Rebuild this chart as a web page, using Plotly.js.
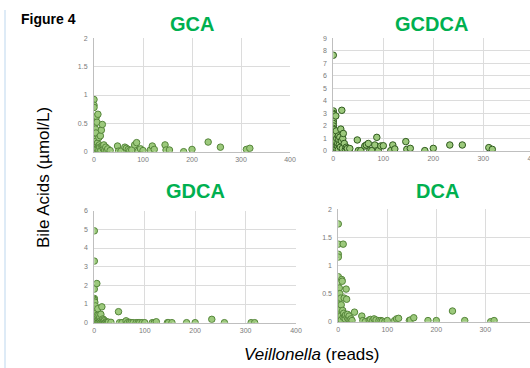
<!DOCTYPE html>
<html>
<head>
<meta charset="utf-8">
<script src="https://cdn.plot.ly/plotly-3.0.1.min.js"></script>
<style>
html,body{margin:0;padding:0;overflow:hidden;background:#fff;}
#chart{width:540px;height:368px;}
</style>
</head>
<body>
<div id="chart"></div>
<script>
// Veillonella reads (shared across panels)
const reads = [
  0,0,0,0,0,0,0,0,0,0,0,0,0,0,0,
  1,1,1,1, 2,2,2, 3,3,3, 4,4, 5,5, 6,6, 7, 8, 9, 10,10, 11, 12, 13, 14, 15, 16, 17, 18, 19, 20, 22, 24, 26, 28,
  33,48,50,55,63,66,70,73,77,83,87,90,95,100,115,119,123,145,147,154,183,200,233,258,311,318
];
const gca = [
  0.92,0.82,0.78,0.57,0.45,0.35,0.3,0.25,0.2,0.15,0.12,0.08,0.05,0.02,0.0,
  0.3,0.18,0.1,0.03, 0.22,0.12,0.06, 0.4,0.18,0.02, 0.33,0.08, 0.62,0.12, 0.52,0.05, 0.15, 0.66, 0.1, 0.25,0.03, 0.12, 0.08, 0.28, 0.02, 0.38, 0.1, 0.48, 0.1, 0.05, 0.12, 0.03, 0.08, 0.02, 0.05,
  0.02,0.10,0.01,0.01,0.08,0.06,0.04,0.02,0.03,0.12,0.16,0.01,0.05,0.02,0.03,0.10,0.04,0.12,0.03,0.03,0.0,0.04,0.17,0.08,0.04,0.06
];
const gcdca = [
  7.65,3.2,3.0,2.4,2.2,2.0,1.8,1.6,1.4,1.2,1.0,0.8,0.5,0.3,0.1,
  2.9,1.7,0.9,0.4, 1.5,0.6,0.2, 1.1,0.7,0.05, 1.3,0.3, 2.8,0.8, 1.6,0.2, 1.0, 0.4, 0.6, 1.2,0.1, 0.9, 0.5, 1.1, 0.3, 1.75, 0.8, 3.25, 0.2, 1.0, 1.4, 0.6, 0.1, 0.3, 0.2,
  0.2,0.88,0.03,0.03,0.4,0.48,0.6,0.03,0.03,0.48,1.09,0.03,0.4,0.42,0.03,0.48,0.16,0.75,0.13,0.21,0.03,0.21,0.48,0.48,0.27,0.13
];
const gdca = [
  4.92,3.3,1.8,1.3,1.25,1.2,1.1,1.0,0.7,0.5,0.3,0.2,0.1,0.05,0.0,
  1.1,0.6,0.2,0.05, 0.9,0.4,0.1, 0.5,0.2,0.02, 0.3,0.1, 2.1,0.05, 0.4,0.1, 0.75, 0.05, 0.4, 0.2,0.05, 0.3, 0.1, 0.45, 0.05, 0.85, 0.1, 0.2, 0.05, 0.15, 0.1, 0.02, 0.05, 0.02, 0.03,
  0.02,0.59,0.0,0.0,0.1,0.0,0.02,0.0,0.0,0.0,0.0,0.0,0.0,0.0,0.0,0.0,0.05,0.0,0.0,0.0,0.0,0.0,0.18,0.0,0.0,0.0
];
const dca = [
  1.74,1.38,1.2,1.15,0.8,0.7,0.58,0.55,0.5,0.35,0.28,0.2,0.1,0.05,0.02,
  0.48,0.3,0.12,0.03, 0.6,0.25,0.08, 0.5,0.15,0.02, 0.22,0.05, 0.42,0.1, 0.3,0.03, 0.75, 0.72, 0.2, 1.38,0.08, 0.15, 0.42, 0.1, 0.05, 0.12, 0.58, 0.4, 0.08, 0.13, 0.05, 0.1, 0.03, 0.05, 0.02,
  0.17,0.1,0.02,0.0,0.03,0.04,0.02,0.05,0.03,0.02,0.02,0.01,0.0,0.02,0.02,0.05,0.06,0.02,0.03,0.07,0.02,0.02,0.19,0.02,0.0,0.02
];
const panelNames = ["GCA","GCDCA","GDCA","DCA"];
const xTicks = [0,100,200,300,400];

const fill = "#9cc97c";
function tr(y, xa, ya, edge){
  return {x: reads, y: y, xaxis: xa, yaxis: ya, type: "scatter", mode: "markers",
    marker: {size: 6.5, color: fill, line: {color: edge, width: 1}}, hoverinfo: "x+y"};
}
const data = [
  tr(gca, "x", "y", "#55853a"),
  tr(gcdca, "x2", "y2", "#2f5a1e"),
  tr(gdca, "x3", "y3", "#55853a"),
  tr(dca, "x4", "y4", "#55853a")
];
const tickFont = {family: "Liberation Sans, Arial, sans-serif", size: 7, color: "#7a7a7a"};
function xa(dom, maxr, anchor){
  return {domain: dom, range: [0, maxr], anchor: anchor, tickvals: xTicks, ticktext: xTicks.map(String),
    showgrid: true, gridcolor: "#dcdcdc", gridwidth: 1, zeroline: false, showline: true, linecolor: "#bfbfbf",
    linewidth: 1, ticks: "", tickfont: tickFont, fixedrange: true, ticklabelstandoff: 1};
}
function ya(dom, maxr, dt, anchor){
  return {domain: dom, range: [0, maxr], anchor: anchor, dtick: dt, tick0: 0,
    showgrid: true, gridcolor: "#dcdcdc", gridwidth: 1, zeroline: false, showline: true, linecolor: "#bfbfbf",
    linewidth: 1, ticks: "", tickfont: tickFont, fixedrange: true, ticklabelstandoff: 4};
}
const titleFont = {family: "Liberation Sans, Arial, sans-serif", size: 20, color: "#00b050", weight: "bold"};
const W = 540, H = 368;
function ann(text, px, py, font, extra){
  return Object.assign({text: text, x: px / W, y: 1 - py / H, xref: "paper", yref: "paper",
    showarrow: false, xanchor: "center", yanchor: "middle", font: font}, extra || {});
}
const layout = {
  width: W, height: H, margin: {l: 0, r: 0, t: 0, b: 0},
  paper_bgcolor: "#fff", plot_bgcolor: "#fff", showlegend: false,
  xaxis: xa([94/W, 290/W], 400, "y"),
  yaxis: ya([1-151.7/H, 1-38.3/H], 2, 0.5, "x"),
  xaxis2: xa([333.3/W, 533.3/W], 400, "y2"),
  yaxis2: ya([1-151/H, 1-38.3/H], 9, 1, "x2"),
  xaxis3: xa([94.3/W, 296/W], 400, "y3"),
  yaxis3: ya([1-322.7/H, 1-210.7/H], 6, 1, "x3"),
  xaxis4: xa([338.3/W, 534.3/W], 400, "y4"),
  yaxis4: ya([1-321.7/H, 1-209.3/H], 2, 0.5, "x4"),
  annotations: [
    ann(panelNames[0], 191.5, 24.5, titleFont),
    ann(panelNames[1], 431.7, 24.5, titleFont),
    ann(panelNames[2], 195, 190.5, titleFont),
    ann(panelNames[3], 437.5, 190.5, titleFont),
    ann("<b>Figure 4</b>", 48.5, 18.5, {family: "Liberation Sans, Arial, sans-serif", size: 14, color: "#000"}),
    ann("Bile Acids (µmol/L)", 43, 178, {family: "Liberation Sans, Arial, sans-serif", size: 17, color: "#000"}, {textangle: -90}),
    ann("<i>Veillonella</i> (reads)", 311, 354, {family: "Liberation Sans, Arial, sans-serif", size: 17, color: "#000"})
  ],
  shapes: [
    {type: "line", xref: "paper", yref: "paper", x0: 5/W, x1: 5/W, y0: 0, y1: 1 - 10/H,
     line: {color: "#bdd7ee", width: 1}}
  ]
};
Plotly.newPlot("chart", data, layout, {displayModeBar: false, staticPlot: true});
</script>
</body>
</html>
